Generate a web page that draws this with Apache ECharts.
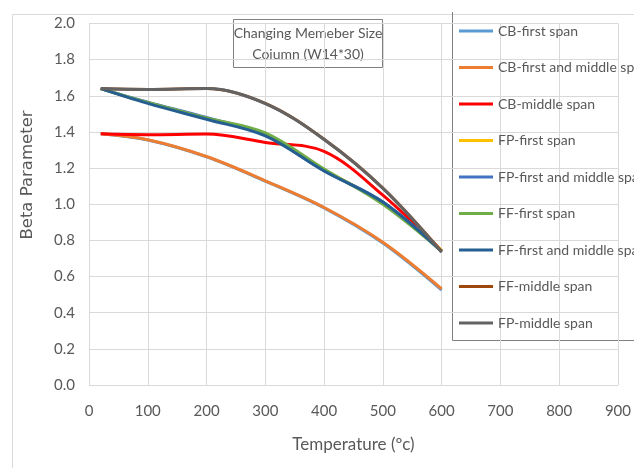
<!DOCTYPE html>
<html>
<head>
<meta charset="utf-8">
<title>Changing Memeber Size Coiumn (W14*30)</title>
<script src="https://cdn.jsdelivr.net/npm/echarts@6/dist/echarts.min.js"></script>
<style>
  html, body { margin: 0; padding: 0; background: #ffffff; }
  #chart { width: 634px; height: 468px; }
</style>
</head>
<body>
<div id="chart"></div>
<script>
// Temperatures (°C) at which beta was evaluated
const temperatures = [20, 100, 200, 300, 400, 500, 600];

const seriesNames = [
  'CB-first span',
  'CB-first and middle span',
  'CB-middle span',
  'FP-first span',
  'FP-first and middle span',
  'FF-first span',
  'FF-first and middle span',
  'FF-middle span',
  'FP-middle span'
];

// Beta parameter per series
const cbFirst        = [1.39, 1.355, 1.262, 1.128, 0.980, 0.785, 0.525];
const cbFirstMiddle  = [1.39, 1.357, 1.264, 1.130, 0.982, 0.790, 0.532];
const cbMiddle       = [1.39, 1.385, 1.388, 1.342, 1.292, 1.050, 0.742];
const fpFirst        = [1.64, 1.562, 1.475, 1.385, 1.190, 1.008, 0.745];
const fpFirstMiddle  = [1.64, 1.565, 1.480, 1.382, 1.186, 1.012, 0.740];
const ffFirst        = [1.64, 1.563, 1.478, 1.395, 1.195, 1.000, 0.740];
const ffFirstMiddle  = [1.64, 1.558, 1.470, 1.378, 1.184, 1.012, 0.738];
const ffMiddle       = [1.64, 1.635, 1.640, 1.558, 1.360, 1.090, 0.738];
const fpMiddle       = [1.64, 1.635, 1.640, 1.557, 1.358, 1.088, 0.735];

const seriesValues = [cbFirst, cbFirstMiddle, cbMiddle, fpFirst, fpFirstMiddle,
                      ffFirst, ffFirstMiddle, ffMiddle, fpMiddle];

const seriesColors = ['#5B9BD5', '#ED7D31', '#FF0000', '#FFC000', '#4472C4',
                      '#70AD47', '#255E91', '#9E480E', '#636363'];

// Axis ticks
const xTicks = [0, 100, 200, 300, 400, 500, 600, 700, 800, 900];
const yTicks = [0.0, 0.2, 0.4, 0.6, 0.8, 1.0, 1.2, 1.4, 1.6, 1.8, 2.0];

const FONT = 'Lato, "Noto Sans", sans-serif';
const TEXT = '#595959';
const GRID = '#d9d9d9';
const FRAME = '#808080';

const chart = echarts.init(document.getElementById('chart'), null, { renderer: 'canvas' });

const series = seriesNames.map((name, i) => ({
  name: name,
  type: 'line',
  data: temperatures.map((t, k) => [t, seriesValues[i][k]]),
  smooth: 0.35,
  symbol: 'none',
  lineStyle: { color: seriesColors[i], width: 3 },
  itemStyle: { color: seriesColors[i] },
  emphasis: { disabled: true },
  animation: false
}));

chart.setOption({
  backgroundColor: '#ffffff',
  animation: false,
  textStyle: { fontFamily: FONT },
  grid: { left: 89, right: 12.5, top: 23.5, bottom: 83, containLabel: false },
  xAxis: {
    type: 'value',
    min: xTicks[0],
    max: xTicks[xTicks.length - 1],
    interval: xTicks[1] - xTicks[0],
    name: 'Temperature (ºc)',
    nameLocation: 'middle',
    nameGap: 51,
    nameTextStyle: { color: TEXT, fontSize: 17, fontFamily: FONT },
    axisLine: { show: false },
    axisTick: { show: false },
    axisLabel: { color: TEXT, fontSize: 15, fontFamily: FONT, margin: 19 },
    splitLine: { show: true, lineStyle: { color: GRID, width: 1 } }
  },
  yAxis: {
    type: 'value',
    min: yTicks[0],
    max: yTicks[yTicks.length - 1],
    interval: 0.2,
    axisLine: { show: false },
    axisTick: { show: false },
    axisLabel: {
      color: TEXT, fontSize: 15, fontFamily: FONT, margin: 14,
      formatter: v => v.toFixed(1)
    },
    splitLine: { show: true, lineStyle: { color: GRID, width: 1 } }
  },
  legend: {
    orient: 'vertical',
    left: 459,
    top: 24,
    padding: 0,
    icon: 'rect',
    itemGap: 22.5,
    itemWidth: 34,
    itemHeight: 3,
    data: seriesNames,
    textStyle: { color: TEXT, fontSize: 14, fontFamily: FONT, lineHeight: 14 },
    selectedMode: false
  },
  graphic: [
    // outer chart frame
    {
      type: 'rect', left: 10, top: 12, silent: true,
      shape: { x: 0, y: 0, width: 700, height: 520 },
      style: { fill: 'none', stroke: GRID, lineWidth: 1 }
    },
    // legend frame (left and bottom edges)
    {
      type: 'polyline', silent: true,
      shape: { points: [[452.5, 12], [452.5, 340.5], [640, 340.5]] },
      style: { fill: 'none', stroke: FRAME, lineWidth: 1 }
    },
    // caption box
    {
      type: 'rect', silent: true,
      shape: { x: 233.5, y: 19.5, width: 149, height: 48 },
      style: { fill: 'none', stroke: FRAME, lineWidth: 1 }
    },
    {
      type: 'text', silent: true, x: 308, y: 33,
      style: {
        text: 'Changing Memeber Size', fill: TEXT, font: '14px ' + FONT,
        align: 'center', verticalAlign: 'middle'
      }
    },
    {
      type: 'text', silent: true, x: 308, y: 54.5,
      style: {
        text: 'Coiumn (W14*30)', fill: TEXT, font: '14px ' + FONT,
        align: 'center', verticalAlign: 'middle'
      }
    },
    // y-axis title
    {
      type: 'text', silent: true, x: 27.5, y: 175, rotation: Math.PI / 2,
      style: {
        text: 'Beta Parameter', fill: TEXT, font: '16.5px "DejaVu Sans", sans-serif',
        align: 'center', verticalAlign: 'middle'
      }
    }
  ],
  series: series
});
</script>
</body>
</html>
